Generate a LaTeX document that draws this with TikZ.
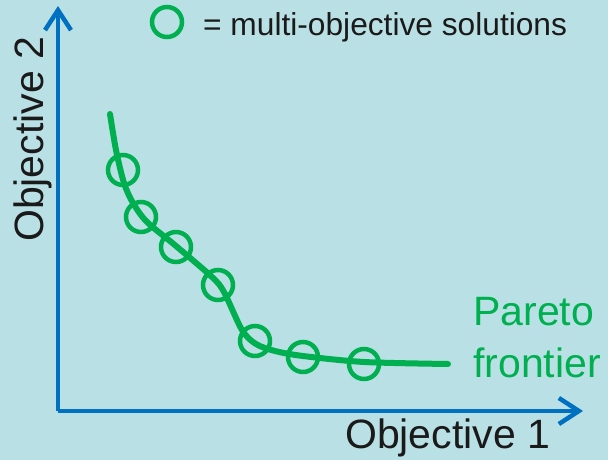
\documentclass[tikz,border=0pt]{standalone}
\usepackage{fontspec}
\setmainfont{Liberation Sans}
\usetikzlibrary{arrows.meta}
\definecolor{bgblue}{RGB}{185,224,228}
\definecolor{axisblue}{RGB}{0,112,192}
\definecolor{paretogreen}{RGB}{0,176,80}
\definecolor{txt}{RGB}{26,26,26}
\begin{document}
\begin{tikzpicture}[x=1pt,y=-1pt,
  sol/.style={circle,draw=paretogreen,line width=4.5pt,minimum size=30pt,inner sep=0pt},
  axis/.style={draw=axisblue,line width=4.5pt,-{Straight Barb[length=20pt,width=26pt]}},
  bigtext/.style={font=\fontsize{41}{52}\selectfont,text=txt,inner sep=0pt},
]
\fill[bgblue] (0,0) rectangle (608,460);
\useasboundingbox (0,0) rectangle (608,460);
% axes
\coordinate (origin) at (58,411);
\coordinate (ytip) at (58,6);
\coordinate (xtip) at (583,411);
\draw[axis] (origin) -- (ytip);
\draw[axis] (origin) -- (xtip);
% frontier curve
\draw[paretogreen,line width=6pt,line cap=round] plot[smooth,tension=0.5] coordinates
  {(110,114) (116,150) (124,183) (133,203) (147,222) (176,246) (212,277) (224,292) (242,330) (256,344) (275,351) (303,356) (364,362) (448,364)};
% solutions
\node[sol] (s1) at (123,170) {};
\node[sol] (s2) at (141,217) {};
\node[sol] (s3) at (176,247) {};
\node[sol] (s4) at (218,285) {};
\node[sol] (s5) at (255,341) {};
\node[sol] (s6) at (303,357) {};
\node[sol] (s7) at (364,364) {};
% legend
\node[sol] (leg) at (167,22) {};
\node[anchor=base west,inner sep=0pt,text=txt,font=\fontsize{31.7}{38}\selectfont] (legtext) at (203,36) {= multi-objective solutions};
% labels
\node[bigtext,anchor=base west] (xlabel) at (345,448) {Objective 1};
\node[bigtext,anchor=base west,rotate=90] (ylabel) at (43,242) {Objective 2};
\node[bigtext,anchor=base west,text=paretogreen,align=left] (pareto) at (473,377) {Pareto\\frontier};
\end{tikzpicture}
\end{document}
